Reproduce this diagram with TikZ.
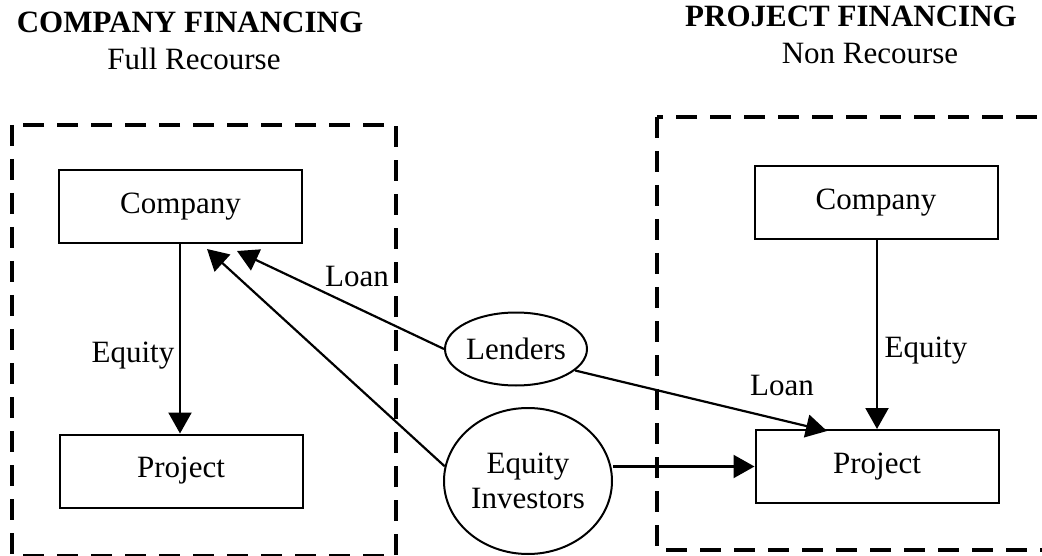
\documentclass[tikz,border=0pt]{standalone}
\usepackage{fontspec}
\setmainfont{Liberation Serif}
\usetikzlibrary{arrows.meta,shapes.geometric}
\begin{document}
\begin{tikzpicture}[x=1pt,y=-1pt,
  every node/.style={font=\fontsize{31}{35}\selectfont, inner sep=0pt},
  unit/.style={draw, line width=2pt, minimum width=243pt, minimum height=73pt},
  party/.style={draw, ellipse, line width=2pt, align=center},
  frame/.style={draw, line width=4pt, dash pattern=on 21pt off 13pt},
  flow/.style={line width=2.2pt, -{Triangle[length=21pt,width=23pt]}},
  heading/.style={anchor=base, font=\fontsize{31}{35}\selectfont\bfseries},
  sub/.style={anchor=base},
  lbl/.style={anchor=base}]
\useasboundingbox (0,0) rectangle (1042,556);

% section headings
\node[heading] (h1) at (190,33) {COMPANY FINANCING};
\node[sub] (s1) at (194,70) {Full Recourse};
\node[heading] (h2) at (851,27) {PROJECT FINANCING};
\node[sub] (s2) at (870,64) {Non Recourse};

% dashed frames
\draw[frame] (12,125) rectangle (396,556);
\draw[frame] (657,117) rectangle (1060,550);

% company financing side
\node[unit] (LC) at (180.5,207) {Company};
\node[unit] (LP) at (181,471) {Project};
\draw[flow] (LC.south -| 180,0) -- (LP.north -| 180,0);
\node[lbl] (le) at (133,362) {Equity};

% project financing side
\node[unit] (RC) at (876,202.5) {Company};
\node[unit] (RP) at (877,466.5) {Project};
\draw[flow] (RC.south -| 877,0) -- (RP.north -| 877,0);
\node[lbl] (re) at (926,357) {Equity};

% outside parties
\node[party, minimum width=142pt, minimum height=73pt] (Lend) at (516,349) {Lenders};
\node[party, minimum width=168pt, minimum height=146pt] (Inv) at (528,481) {Equity\\Investors};

\coordinate (tipL) at (237,251);
\coordinate (tipE) at (207,249);
\coordinate (tipR) at (827,431);

\draw[flow] (Lend.west) -- (tipL);
\draw[flow] (Inv.170) -- (tipE);
\draw[flow] (Lend.-20) -- (tipR);
\draw[flow] (Inv.east |- RP.west) -- (RP.west);

\node[lbl] (ll) at (357,287) {Loan};
\node[lbl] (rl) at (782,395) {Loan};
\end{tikzpicture}
\end{document}
